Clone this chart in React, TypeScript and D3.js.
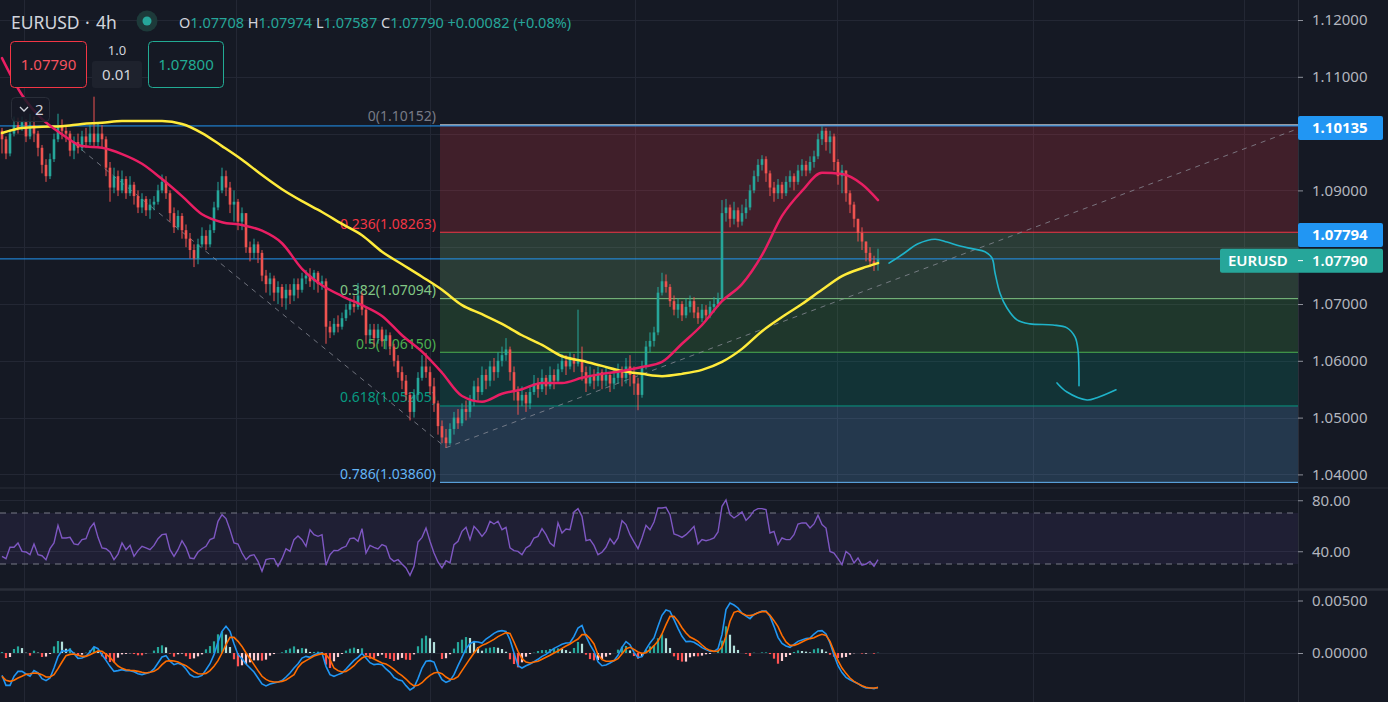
import React, { useEffect, useRef } from 'react';
import * as d3 from 'd3';

const W = 1388;
const H = 702;

// 4h bars, prices in pips above 1.0000 (open = previous close)
const firstOpen = 1005;
const closes = [
  990, 965, 1000, 1015, 1010, 1020, 995, 1015, 1000, 975,
  945, 925, 955, 990, 1015, 1005, 1000, 970, 985, 975,
  995, 985, 1000, 985, 1000, 990, 940, 905, 925, 900,
  920, 895, 910, 890, 870, 885, 865, 875, 880, 900,
  915, 895, 860, 835, 855, 830, 815, 795, 780, 805,
  820, 805, 830, 870, 900, 925, 905, 875, 880, 845,
  860, 800, 790, 805, 790, 750, 735, 745, 720, 730,
  710, 725, 715, 735, 725, 745, 750, 740, 755, 735,
  740, 660, 650, 665, 660, 675, 690, 700, 695, 715,
  690, 645, 655, 640, 655, 635, 645, 625, 600, 580,
  565, 540, 510, 540, 570, 590, 580, 555, 525, 485,
  465, 455, 480, 500, 490, 515, 510, 530, 555, 545,
  575, 565, 590, 580, 600, 610, 620, 580, 545, 530,
  540, 525, 545, 560, 550, 570, 555, 575, 565, 585,
  600, 590, 605, 595, 600, 580, 560, 575, 565, 580,
  565, 575, 560, 570, 580, 570, 590, 575, 560, 540,
  590, 625, 635, 650, 720, 740, 730, 705, 690, 700,
  680, 695, 705, 685, 675, 690, 680, 695, 700, 710,
  860, 870, 850, 865, 845, 860, 870, 900, 925, 945,
  955, 930, 905, 895, 910, 895, 915, 925, 915, 935,
  945, 935, 950, 960, 990, 1005, 985, 995, 950, 925,
  935, 895, 875, 850, 825, 810, 790, 775, 770.8, 779,
];
const highs = [
  1010, 995, 1008, 1030, 1028, 1030, 1025, 1035, 1030, 1005,
  980, 955, 965, 1000, 1035, 1025, 1015, 1005, 995, 1000,
  1005, 1010, 1015, 1065, 1020, 1015, 995, 950, 940, 935,
  935, 925, 925, 915, 900, 895, 890, 885, 890, 910,
  928, 925, 900, 870, 865, 860, 840, 825, 805, 815,
  835, 830, 840, 880, 915, 940, 935, 915, 900, 885,
  870, 855, 810, 815, 810, 795, 760, 755, 750, 740,
  735, 735, 735, 745, 745, 755, 760, 763, 760, 758,
  750, 745, 670, 675, 680, 685, 700, 710, 715, 737,
  720, 695, 665, 665, 665, 660, 655, 650, 630, 610,
  590, 575, 545, 550, 580, 610, 614, 590, 570, 530,
  495, 480, 490, 510, 515, 525, 530, 540, 565, 570,
  590, 585, 600, 605, 615, 625, 640, 625, 590, 555,
  555, 545, 555, 575, 570, 585, 575, 590, 585, 595,
  612, 610, 615, 612, 690, 625, 590, 590, 585, 590,
  585, 590, 580, 585, 595, 590, 605, 610, 590, 570,
  600, 635, 650, 660, 730, 755, 752, 735, 715, 710,
  705, 710, 715, 712, 695, 700, 698, 705, 712, 720,
  883, 885, 875, 880, 870, 875, 885, 910, 935, 955,
  962, 960, 935, 915, 920, 915, 925, 935, 930, 945,
  955, 952, 960, 970, 1000, 1013, 1010, 1005, 1000, 955,
  945, 935, 900, 880, 850, 835, 810, 800, 785, 797.4,
];
const lows = [
  965, 955, 960, 995, 1000, 1005, 985, 990, 985, 960,
  930, 915, 920, 950, 985, 990, 985, 960, 955, 965,
  970, 975, 980, 975, 975, 975, 925, 880, 895, 890,
  895, 885, 890, 875, 860, 860, 855, 850, 865, 875,
  895, 885, 845, 825, 830, 815, 800, 780, 765, 770,
  800, 795, 800, 825, 865, 895, 890, 860, 845, 830,
  830, 790, 775, 780, 772, 740, 720, 715, 705, 700,
  695, 690, 700, 705, 710, 720, 735, 730, 725, 720,
  725, 630, 640, 645, 650, 655, 670, 680, 685, 690,
  680, 630, 630, 625, 630, 625, 620, 610, 590, 570,
  550, 530, 495, 500, 530, 565, 570, 540, 510, 470,
  455, 447, 452, 470, 480, 485, 495, 500, 520, 530,
  540, 550, 555, 565, 570, 590, 600, 565, 530, 505,
  520, 510, 515, 540, 535, 545, 540, 550, 550, 560,
  580, 575, 585, 580, 590, 565, 545, 555, 550, 555,
  550, 555, 545, 550, 560, 555, 560, 555, 540, 513,
  535, 585, 615, 625, 645, 715, 720, 695, 680, 675,
  670, 675, 685, 675, 665, 668, 670, 675, 685, 695,
  705, 845, 835, 840, 835, 838, 850, 865, 895, 915,
  935, 915, 890, 880, 885, 885, 890, 905, 900, 910,
  925, 925, 930, 940, 955, 980, 970, 965, 935, 910,
  895, 880, 860, 835, 810, 795, 775, 765, 758, 758.7,
];

// moving averages read at every 5th bar (pips above 1.0000)
const maIndex = [
  0, 5, 10, 15, 20, 25, 30, 35, 40, 45, 50, 55, 60, 65, 70, 75, 80, 85, 90, 95, 100, 105,
  110, 115, 120, 125, 130, 135, 140, 145, 150, 155, 160, 165, 170, 175, 180, 185, 190, 195,
  200, 205, 210, 215, 219,
];
const maFast = [
  1133, 1068, 1026, 999, 978, 975, 964, 947, 920, 890, 858, 844, 839, 829, 807, 762, 733, 714,
  698, 679, 645, 616, 579, 538, 528, 542, 550, 561, 561, 570, 577, 582, 589, 598, 630, 663,
  705, 735, 786, 855, 899, 931, 929, 911, 883,
];
const maSlow = [
  1001, 1010, 1012, 1013, 1017, 1019, 1022, 1022, 1022, 1017, 1001, 978, 954, 927, 902, 881,
  862, 841, 821, 792, 770, 748, 725, 698, 682, 665, 645, 628, 608, 600, 591, 582, 577, 573,
  577, 584, 598, 621, 652, 677, 700, 725, 749, 763, 772,
];

const rsiValues = [
  36.0, 34.2, 43.1, 43.1, 46.5, 39.9, 39.4, 37.3, 45.7, 37.3,
  36.5, 33.4, 42.0, 46.5, 60.3, 50.4, 50.4, 50.9, 45.7, 45.2,
  49.1, 49.9, 58.2, 62.2, 50.9, 42.6, 42.0, 39.4, 33.4, 37.8,
  46.5, 41.2, 44.6, 36.0, 40.5, 43.9, 42.6, 41.2, 44.6, 49.9,
  53.0, 53.5, 41.2, 36.0, 41.2, 48.3, 43.1, 34.7, 34.2, 39.4,
  42.0, 43.9, 49.1, 50.4, 63.5, 68.7, 65.6, 56.9, 46.5, 45.7,
  38.6, 33.4, 36.5, 37.3, 32.1, 24.3, 33.4, 34.2, 34.2, 28.2,
  34.2, 42.0, 39.9, 49.1, 52.0, 49.1, 43.9, 56.9, 53.0, 51.7,
  53.0, 29.0, 37.3, 40.7, 40.5, 42.6, 43.9, 49.9, 50.4, 47.8,
  57.7, 38.6, 44.6, 43.1, 41.8, 45.2, 43.9, 34.7, 32.1, 33.4,
  30.0, 26.9, 21.1, 28.2, 47.3, 50.9, 58.2, 47.8, 38.6, 31.6,
  26.9, 32.6, 30.8, 45.2, 47.8, 55.6, 58.8, 49.1, 59.5, 56.1,
  51.7, 55.6, 63.5, 61.4, 63.5, 56.9, 58.8, 42.6, 40.5, 39.9,
  37.3, 42.6, 44.6, 50.4, 51.7, 57.7, 53.0, 46.5, 43.9, 62.2,
  54.3, 57.5, 56.9, 70.8, 73.4, 67.4, 48.3, 49.1, 44.6, 37.3,
  39.2, 43.1, 49.9, 45.7, 50.4, 64.0, 60.9, 53.0, 47.3, 42.0,
  50.4, 60.3, 56.9, 62.9, 73.9, 73.9, 74.4, 68.7, 53.5, 52.5,
  50.9, 53.0, 56.1, 59.5, 45.7, 49.1, 48.3, 49.1, 50.4, 55.1,
  75.2, 80.2, 68.7, 66.1, 68.2, 70.8, 64.2, 67.4, 71.8, 73.4,
  73.4, 72.6, 54.3, 55.6, 45.2, 50.4, 49.1, 49.1, 53.0, 61.4,
  62.2, 62.2, 58.2, 61.4, 68.2, 60.9, 58.2, 39.9, 38.6, 34.2,
  29.5, 39.9, 37.3, 30.8, 34.7, 29.0, 30.0, 32.1, 28.2, 33.4,
];

// MACD and signal, in units of 0.0001
const macdValues = [
  -21.3, -30.8, -30.8, -22.2, -17.5, -17.5, -20.0, -22.2, -16.8, -19.0,
  -24.4, -26.3, -23.8, -14.3, -3.5, 2.2, 1.6, 3.2, -0.6, -5.1,
  -4.8, -2.9, 1.0, 6.0, 4.1, -1.6, -7.0, -12.7, -17.5, -16.8,
  -15.9, -16.8, -16.8, -17.8, -19.7, -20.6, -19.4, -18.4, -15.2, -9.5,
  -3.8, -2.5, -7.9, -11.1, -9.8, -11.1, -15.2, -20.6, -22.9, -22.9,
  -21.3, -15.9, -10.2, -1.6, 10.5, 20.6, 25.4, 20.6, 8.9, -1.6,
  -5.4, -10.5, -14.3, -18.1, -23.8, -29.5, -31.4, -29.5, -28.6, -27.6,
  -26.3, -22.9, -19.0, -14.3, -10.2, -4.8, -3.2, -4.1, -1.9, -0.3,
  0, -12.7, -20.6, -22.2, -20.6, -19.0, -15.2, -11.1, -7.0, -4.1,
  -0.3, -4.8, -9.2, -11.1, -10.5, -11.1, -15.2, -18.4, -23.2, -25.4,
  -26.3, -31.1, -35.2, -32.7, -24.4, -14.3, -7.9, -7.3, -8.6, -18.4,
  -25.4, -27.9, -26.3, -20.6, -12.1, -4.1, 4.1, 8.9, 10.8, 10.5,
  9.5, 13.3, 15.9, 18.7, 20.6, 21.3, 20.6, 12.7, 0, -12.1,
  -14.3, -12.1, -10.5, -8.3, -6.0, -3.2, -1.3, 1.6, 4.4, 6.3,
  8.3, 9.5, 9.8, 15.9, 23.8, 26.3, 15.9, 7.9, 1.6, -8.3,
  -12.1, -11.4, -9.5, -7.3, -2.2, 5.4, 10.8, 7.9, 0.6, -4.4,
  -3.5, 3.5, 9.5, 14.3, 25.4, 35.9, 41.0, 39.7, 31.7, 23.5,
  15.9, 10.8, 11.1, 10.2, 7.9, 5.1, 3.2, 1.6, 1.6, 4.1,
  17.5, 41.3, 47.6, 45.7, 42.9, 37.8, 35.2, 32.7, 36.8, 38.4,
  40.0, 40.0, 34.9, 25.4, 14.9, 9.2, 6.7, 5.4, 8.3, 11.1,
  12.4, 13.7, 14.3, 18.1, 21.0, 21.3, 18.1, 9.5, -1.9, -12.1,
  -18.7, -23.2, -25.4, -27.3, -29.2, -31.7, -33.3, -33.3, -34.0, -32.7,
];
const signalValues = [
  -22.2, -26.0, -27.0, -26.0, -23.8, -22.2, -20.3, -19.7, -19.0, -19.4,
  -20.6, -22.9, -22.9, -20.6, -14.9, -8.6, -2.5, -1.3, -1.0, -2.2,
  -3.2, -3.2, -1.6, 0.3, 1.9, 1.6, -1.0, -4.1, -8.6, -12.4,
  -14.6, -15.9, -16.5, -16.8, -17.5, -18.4, -19.0, -18.4, -17.5, -15.2,
  -11.1, -7.9, -7.3, -7.6, -8.6, -10.5, -12.1, -14.9, -17.8, -19.7,
  -20.0, -19.4, -16.8, -12.7, -7.3, 0, 7.9, 14.9, 14.9, 11.1,
  6.3, 0, -5.4, -11.1, -16.8, -22.2, -25.1, -27.0, -27.6, -27.6,
  -27.0, -25.7, -23.2, -20.6, -13.7, -9.5, -7.3, -5.1, -2.9, -1.6,
  -0.6, -1.6, -6.3, -14.3, -16.8, -18.1, -17.5, -15.2, -12.1, -7.9,
  -4.8, -2.9, -3.8, -5.7, -7.6, -9.5, -10.5, -12.7, -15.6, -19.0,
  -21.6, -24.8, -28.6, -31.4, -30.8, -28.3, -24.4, -21.3, -19.0, -18.4,
  -19.7, -22.9, -25.1, -24.8, -22.5, -16.8, -11.1, -5.4, 0, 4.8,
  7.3, 8.9, 10.8, 13.0, 15.6, 17.5, 19.4, 18.7, 10.5, 1.6,
  -5.4, -8.6, -9.5, -8.6, -7.9, -6.0, -4.1, -2.2, 0, 1.9,
  4.4, 6.7, 8.6, 11.1, 13.3, 17.5, 17.5, 13.7, 8.6, -1.6,
  -6.3, -7.9, -7.9, -7.3, -5.4, -0.6, 4.1, 5.4, 3.5, 1.0,
  -0.3, 0.3, 3.2, 7.0, 11.4, 18.1, 27.0, 34.9, 34.9, 30.2,
  24.1, 19.0, 15.2, 13.3, 11.1, 7.6, 4.4, 2.5, 1.6, 1.9,
  5.7, 15.9, 30.2, 38.7, 40.0, 37.8, 35.9, 35.6, 36.5, 38.4,
  39.4, 39.4, 35.9, 30.8, 25.1, 16.8, 10.5, 7.3, 7.3, 8.6,
  10.5, 12.4, 13.7, 14.6, 16.5, 17.8, 16.8, 11.1, 1.6, -7.3,
  -14.3, -19.4, -23.8, -27.0, -29.2, -31.1, -32.7, -33.3, -33.3, -33.0,
];

const priceGrid = [1.04, 1.05, 1.06, 1.07, 1.08, 1.09, 1.1, 1.11, 1.12];
// 1.08000 and 1.10000 sit under the price tags, so they carry no label
const priceLabels = [1.04, 1.05, 1.06, 1.07, 1.09, 1.11, 1.12];
const rsiTicks = [80, 40];
const macdTicks = [0.005, 0];
const gridBars = [5.5, 58.5, 107, 158.25, 208.75, 257.75, 310.5];

const fibStartBar = 109.5;
const fibRatios = [0, 0.236, 0.382, 0.5, 0.618, 0.786];
const fibPrices = [1.10152, 1.08263, 1.07094, 1.0615, 1.05205, 1.0386];
const fibColors = ['#787b86', '#f23645', '#81c784', '#4caf50', '#089981', '#64b5f6'];

const hLines = [1.10135, 1.07794];

// dashed trend lines: [bar, pips]
const trendLines = [
  [[16, 994], [111, 447]],
  [[111, 447], [323.75, 1008]],
];

// hand-drawn projection: [bar, pips]
const projA = [
  [221.75, 772], [225.25, 788], [229, 806], [233.25, 814], [236.25, 809], [239.5, 802],
  [242.75, 797], [245.75, 792], [247.5, 781], [248.25, 755], [249.5, 719], [251.25, 693],
  [253.75, 672], [257, 665], [262.75, 663], [266.25, 658], [268.25, 642], [269, 619],
  [269.25, 556],
];
const projB = [[263.75, 561], [266.25, 545], [271.25, 531], [273.75, 535], [278.5, 549]];

export default function App() {
  const svgRef = useRef<SVGSVGElement | null>(null);

  useEffect(() => {
    if (!svgRef.current) return;
    const svg = d3.select(svgRef.current);
    svg.selectAll('*').remove();

    const bg = '#151924';
    const font = '"Noto Sans", Roboto, sans-serif';
    const plotRight = 1298;
    const paneSep1 = 488;
    const paneSep2 = 589.5;

    const toPrice = (p: number) => 1 + p / 10000;
    const x = d3.scaleLinear().domain([0, 324]).range([2, plotRight]);
    const y = d3.scaleLinear().domain([1.04, 1.12]).range([474.4, 20]);
    const yRsi = d3.scaleLinear().domain([30, 70]).range([564, 513]);
    const yMacd = d3.scaleLinear().domain([0, 0.005]).range([653, 600.5]);

    const bars = closes.map((c, i) => ({
      i,
      open: toPrice(i === 0 ? firstOpen : closes[i - 1]),
      high: toPrice(highs[i]),
      low: toPrice(lows[i]),
      close: toPrice(c),
    }));

    svg.append('rect').attr('width', W).attr('height', H).attr('fill', bg);

    // Grid
    const grid = svg.append('g').attr('stroke', '#232734').attr('stroke-width', 1);
    grid.selectAll('line.gx')
      .data(gridBars)
      .join('line')
      .attr('x1', d => Math.round(x(d)) + 0.5)
      .attr('x2', d => Math.round(x(d)) + 0.5)
      .attr('y1', 0)
      .attr('y2', H);
    grid.selectAll('line.gp')
      .data(priceGrid)
      .join('line')
      .attr('x1', 0).attr('x2', plotRight)
      .attr('y1', d => Math.round(y(d)) + 0.5)
      .attr('y2', d => Math.round(y(d)) + 0.5);
    grid.selectAll('line.gr')
      .data(rsiTicks)
      .join('line')
      .attr('x1', 0).attr('x2', plotRight)
      .attr('y1', d => Math.round(yRsi(d)) + 0.5)
      .attr('y2', d => Math.round(yRsi(d)) + 0.5);
    grid.selectAll('line.gm')
      .data(macdTicks)
      .join('line')
      .attr('x1', 0).attr('x2', plotRight)
      .attr('y1', d => Math.round(yMacd(d)) + 0.5)
      .attr('y2', d => Math.round(yMacd(d)) + 0.5);

    // Fibonacci retracement
    const fx0 = x(fibStartBar);
    const fib = svg.append('g');
    fibPrices.slice(1).forEach((p, k) => {
      fib.append('rect')
        .attr('x', fx0)
        .attr('width', plotRight - fx0)
        .attr('y', y(fibPrices[k]))
        .attr('height', y(p) - y(fibPrices[k]))
        .attr('fill', fibColors[k + 1])
        .attr('fill-opacity', 0.2);
    });
    fibPrices.forEach((p, k) => {
      fib.append('line')
        .attr('x1', fx0).attr('x2', plotRight)
        .attr('y1', y(p)).attr('y2', y(p))
        .attr('stroke', k === 0 ? '#9598a1' : fibColors[k])
        .attr('stroke-width', k === 0 ? 2 : 1);
      fib.append('text')
        .attr('x', fx0 - 4)
        .attr('y', y(p) - 3.5)
        .attr('text-anchor', 'end')
        .attr('font-family', font)
        .attr('font-size', 14)
        .attr('fill', fibColors[k])
        .text(`${fibRatios[k]}(${p.toFixed(5)})`);
    });

    // Horizontal lines
    svg.append('g')
      .selectAll('line')
      .data(hLines)
      .join('line')
      .attr('x1', 0).attr('x2', plotRight)
      .attr('y1', d => y(d)).attr('y2', d => y(d))
      .attr('stroke', '#2196f3')
      .attr('stroke-width', 1);

    // Dashed trend lines
    svg.append('g')
      .selectAll('line')
      .data(trendLines)
      .join('line')
      .attr('x1', d => x(d[0][0])).attr('y1', d => y(toPrice(d[0][1])))
      .attr('x2', d => x(d[1][0])).attr('y2', d => y(toPrice(d[1][1])))
      .attr('stroke', '#8c8f99')
      .attr('stroke-opacity', 0.75)
      .attr('stroke-width', 1)
      .attr('stroke-dasharray', '5 5');

    // Candles
    const up = '#26a69a';
    const down = '#ef5350';
    const candles = svg.append('g')
      .selectAll('g')
      .data(bars)
      .join('g');
    candles.append('line')
      .attr('x1', d => x(d.i)).attr('x2', d => x(d.i))
      .attr('y1', d => y(d.high)).attr('y2', d => y(d.low))
      .attr('stroke', d => (d.close >= d.open ? up : down))
      .attr('stroke-width', 1);
    candles.append('rect')
      .attr('x', d => x(d.i) - 1.3)
      .attr('width', 2.6)
      .attr('y', d => y(Math.max(d.open, d.close)))
      .attr('height', d => Math.max(1, Math.abs(y(d.open) - y(d.close))))
      .attr('fill', d => (d.close >= d.open ? up : down));

    // Moving averages
    const maLine = d3.line<number>()
      .curve(d3.curveMonotoneX)
      .x((_, k) => x(maIndex[k]))
      .y(d => y(toPrice(d)));
    svg.append('path')
      .attr('d', maLine(maSlow))
      .attr('fill', 'none')
      .attr('stroke', '#ffeb3b')
      .attr('stroke-width', 2.5)
      .attr('stroke-linecap', 'round');
    svg.append('path')
      .attr('d', maLine(maFast))
      .attr('fill', 'none')
      .attr('stroke', '#e91e63')
      .attr('stroke-width', 2.5)
      .attr('stroke-linecap', 'round');

    // Projection drawing
    const proj = d3.line<number[]>()
      .curve(d3.curveCatmullRom.alpha(0.5))
      .x(d => x(d[0]))
      .y(d => y(toPrice(d[1])));
    [projA, projB].forEach(pts => {
      svg.append('path')
        .attr('d', proj(pts))
        .attr('fill', 'none')
        .attr('stroke', '#1fb3c9')
        .attr('stroke-width', 1.6)
        .attr('stroke-linecap', 'round');
    });

    // Pane separators
    svg.append('line')
      .attr('x1', 0).attr('x2', W)
      .attr('y1', paneSep1).attr('y2', paneSep1)
      .attr('stroke', '#2a2e39').attr('stroke-width', 1);

    // RSI pane
    const rsiG = svg.append('g');
    rsiG.append('rect')
      .attr('x', 0).attr('width', plotRight)
      .attr('y', yRsi(70)).attr('height', yRsi(30) - yRsi(70))
      .attr('fill', '#7e57c2').attr('fill-opacity', 0.1);
    rsiG.selectAll('line.band')
      .data([70, 30])
      .join('line')
      .attr('x1', 0).attr('x2', plotRight)
      .attr('y1', d => yRsi(d)).attr('y2', d => yRsi(d))
      .attr('stroke', '#787b86')
      .attr('stroke-dasharray', '6 5');
    rsiG.append('path')
      .attr('d', d3.line<number>().x((_, i) => x(i)).y(d => yRsi(d))(rsiValues))
      .attr('fill', 'none')
      .attr('stroke', '#7e57c2')
      .attr('stroke-width', 1.4);

    svg.append('line')
      .attr('x1', 0).attr('x2', W)
      .attr('y1', paneSep2).attr('y2', paneSep2)
      .attr('stroke', '#2a2e39').attr('stroke-width', 2.5);

    // MACD pane
    const hist = macdValues.map((m, i) => (m - signalValues[i]) / 10000);
    const histColor = (h: number, i: number) => {
      const prev = i > 0 ? hist[i - 1] : 0;
      if (h >= 0) return h >= prev ? '#26a69a' : '#b2dfdb';
      return h <= prev ? '#ff5252' : '#ffcdd2';
    };
    svg.append('g')
      .selectAll('rect')
      .data(hist)
      .join('rect')
      .attr('x', (_, i) => x(i) - 1.1)
      .attr('width', 2.2)
      .attr('y', d => Math.min(yMacd(0), yMacd(d)))
      .attr('height', d => Math.abs(yMacd(d) - yMacd(0)))
      .attr('fill', (d, i) => histColor(d, i));
    const macdLine = d3.line<number>().x((_, i) => x(i)).y(d => yMacd(d / 10000));
    svg.append('path')
      .attr('d', macdLine(macdValues))
      .attr('fill', 'none').attr('stroke', '#2196f3').attr('stroke-width', 1.6);
    svg.append('path')
      .attr('d', macdLine(signalValues))
      .attr('fill', 'none').attr('stroke', '#ff6d00').attr('stroke-width', 1.6);

    // Right scale
    svg.append('line')
      .attr('x1', plotRight + 0.5).attr('x2', plotRight + 0.5)
      .attr('y1', 0).attr('y2', H)
      .attr('stroke', '#2a2e39');

    const styleAxis = (g: d3.Selection<SVGGElement, unknown, null, undefined>) => {
      g.select('.domain').remove();
      g.selectAll('.tick line').attr('stroke', '#8d909a');
      g.selectAll('.tick text')
        .attr('fill', '#b2b5be')
        .attr('font-family', font)
        .attr('font-size', 15);
    };
    svg.append('g')
      .attr('transform', `translate(${plotRight},0)`)
      .call(d3.axisRight(y).tickValues(priceLabels).tickFormat(d3.format('.5f')).tickSize(5).tickPadding(9))
      .call(styleAxis);
    svg.append('g')
      .attr('transform', `translate(${plotRight},0)`)
      .call(d3.axisRight(yRsi).tickValues(rsiTicks).tickFormat(d3.format('.2f')).tickSize(5).tickPadding(9))
      .call(styleAxis);
    svg.append('g')
      .attr('transform', `translate(${plotRight},0)`)
      .call(d3.axisRight(yMacd).tickValues(macdTicks).tickFormat(d3.format('.5f')).tickSize(5).tickPadding(9))
      .call(styleAxis);

    // Price labels on the scale
    const tag = (cy: number, text: string, fill: string) => {
      const g = svg.append('g');
      g.append('rect')
        .attr('x', plotRight).attr('y', cy - 12)
        .attr('width', 85).attr('height', 24)
        .attr('rx', 2)
        .attr('fill', fill);
      g.append('text')
        .attr('x', plotRight + 14).attr('y', cy)
        .attr('dy', '0.36em')
        .attr('font-family', font).attr('font-size', 15).attr('font-weight', 700)
        .attr('fill', '#ffffff')
        .text(text);
    };
    tag(y(hLines[0]) + 2, hLines[0].toFixed(5), '#2196f3');
    tag(y(hLines[1]) - 24, hLines[1].toFixed(5), '#2196f3');

    const lastClose = bars[bars.length - 1].close;
    const cy = y(lastClose) + 1.5;
    const sym = svg.append('g');
    sym.append('rect')
      .attr('x', 1220).attr('y', cy - 12)
      .attr('width', 163).attr('height', 24)
      .attr('rx', 2)
      .attr('fill', '#26a69a');
    sym.append('text')
      .attr('x', 1228).attr('y', cy).attr('dy', '0.36em')
      .attr('font-family', font).attr('font-size', 15).attr('font-weight', 600)
      .attr('fill', '#ffffff')
      .text('EURUSD');
    sym.append('line')
      .attr('x1', plotRight).attr('x2', plotRight + 5)
      .attr('y1', cy).attr('y2', cy)
      .attr('stroke', '#ffffff');
    sym.append('text')
      .attr('x', plotRight + 14).attr('y', cy).attr('dy', '0.36em')
      .attr('font-family', font).attr('font-size', 15).attr('font-weight', 600)
      .attr('fill', '#ffffff')
      .text(lastClose.toFixed(5));

    // Header / legend
    const head = svg.append('g').attr('font-family', font);
    head.append('text')
      .attr('x', 11).attr('y', 29)
      .attr('font-size', 17.5).attr('fill', '#d1d4dc')
      .text('EURUSD');
    head.append('text')
      .attr('x', 85).attr('y', 29)
      .attr('font-size', 17.5).attr('fill', '#d1d4dc')
      .text('·');
    head.append('text')
      .attr('x', 96).attr('y', 29)
      .attr('font-size', 17.5).attr('fill', '#d1d4dc')
      .text('4h');
    head.append('circle').attr('cx', 147).attr('cy', 21).attr('r', 10.5).attr('fill', '#1d3a3a');
    head.append('circle').attr('cx', 147).attr('cy', 21).attr('r', 4.5).attr('fill', '#26a69a');

    const last = bars[bars.length - 1];
    const change = last.close - last.open;
    const ohlc = head.append('text')
      .attr('x', 179).attr('y', 28)
      .attr('font-size', 14.5);
    const parts: [string, string][] = [
      ['O', last.open.toFixed(5)],
      [' H', last.high.toFixed(5)],
      [' L', last.low.toFixed(5)],
      [' C', last.close.toFixed(5)],
    ];
    parts.forEach(([k, v]) => {
      ohlc.append('tspan').attr('fill', '#d1d4dc').text(k);
      ohlc.append('tspan').attr('fill', '#26a69a').text(v);
    });
    ohlc.append('tspan')
      .attr('fill', '#26a69a')
      .text(` +${change.toFixed(5)} (+${((change / last.open) * 100).toFixed(2)}%)`);

    head.append('rect')
      .attr('x', 10.5).attr('y', 41.5).attr('width', 76).attr('height', 46).attr('rx', 4)
      .attr('fill', bg).attr('stroke', '#f23645');
    head.append('text')
      .attr('x', 48.5).attr('y', 65).attr('dy', '0.36em').attr('text-anchor', 'middle')
      .attr('font-size', 15).attr('fill', '#f7525f')
      .text(last.close.toFixed(5));
    head.append('text')
      .attr('x', 117).attr('y', 50).attr('dy', '0.36em').attr('text-anchor', 'middle')
      .attr('font-size', 13).attr('fill', '#d1d4dc')
      .text('1.0');
    head.append('rect')
      .attr('x', 92).attr('y', 61).attr('width', 50).attr('height', 27).attr('rx', 3)
      .attr('fill', '#1e222d');
    head.append('text')
      .attr('x', 117).attr('y', 75).attr('dy', '0.36em').attr('text-anchor', 'middle')
      .attr('font-size', 15).attr('fill', '#d1d4dc')
      .text('0.01');
    head.append('rect')
      .attr('x', 148.5).attr('y', 41.5).attr('width', 75).attr('height', 46).attr('rx', 4)
      .attr('fill', bg).attr('stroke', '#22ab94');
    head.append('text')
      .attr('x', 186).attr('y', 65).attr('dy', '0.36em').attr('text-anchor', 'middle')
      .attr('font-size', 15).attr('fill', '#22ab94')
      .text((last.close + 0.0001).toFixed(5));

    head.append('rect')
      .attr('x', 11.5).attr('y', 97.5).attr('width', 38).attr('height', 24).attr('rx', 4)
      .attr('fill', bg).attr('fill-opacity', 0.85).attr('stroke', '#2a2e39');
    head.append('path')
      .attr('d', 'M20,107 L24,111 L28,107')
      .attr('fill', 'none').attr('stroke', '#d1d4dc').attr('stroke-width', 1.3);
    head.append('text')
      .attr('x', 35).attr('y', 110).attr('dy', '0.36em')
      .attr('font-size', 15).attr('fill', '#d1d4dc')
      .text('2');
  }, []);

  return (
    <div style={{ position: 'fixed', left: 0, top: 0, width: W, height: H, background: '#151924' }}>
      <svg ref={svgRef} width={W} height={H} style={{ display: 'block' }}></svg>
    </div>
  );
}
